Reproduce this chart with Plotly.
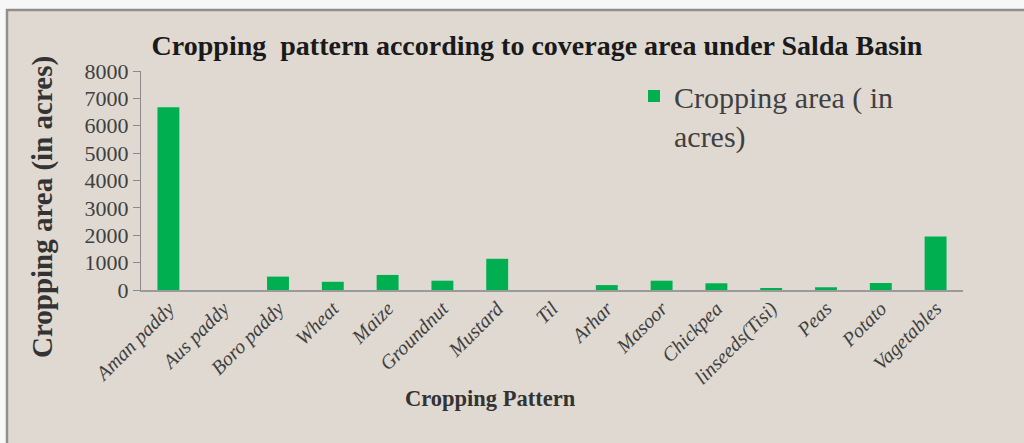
import plotly.graph_objects as go

categories = ["Aman paddy", "Aus paddy", "Boro paddy", "Wheat", "Maize", "Groundnut",
              "Mustard", "Til", "Arhar", "Masoor", "Chickpea", "linseeds(Tisi)",
              "Peas", "Potato", "Vagetables"]
area = [6680, 0, 490, 300, 550, 340, 1140, 0, 180, 340, 245, 60, 100, 255, 1950]
y_ticks = [0, 1000, 2000, 3000, 4000, 5000, 6000, 7000, 8000]

W, H = 1024, 443
L, R, T, B = 141, 963, 71, 290
pw, ph = R - L, B - T

def px(x):
    return (x - L) / pw

def py(y):
    return (B - y) / ph

SERIF = "Liberation Serif, Times New Roman, serif"

fig = go.Figure()
fig.add_trace(go.Bar(
    x=categories, y=area, name="Cropping area ( in<br>acres)",
    marker=dict(color="#00B050", line=dict(width=0)),
))

fig.update_layout(
    width=W, height=H,
    margin=dict(l=L, r=W - R, t=T, b=H - B, pad=0),
    paper_bgcolor="#F7F7F7",
    plot_bgcolor="#E6E2DB",
    bargap=0.6,
    font=dict(family=SERIF, color="#404040"),
    showlegend=True,
    legend=dict(x=px(634), y=py(70), xanchor="left", yanchor="top",
                bgcolor="rgba(0,0,0,0)", valign="top",
                font=dict(family=SERIF, size=30, color="#404040")),
    title=dict(text="<b>Cropping  pattern according to coverage area under Salda Basin</b>",
               x=537 / W, xanchor="center", y=1 - 45 / H, yanchor="middle",
               xref="container", yref="container",
               font=dict(family=SERIF, size=28, color="#1a1a1a")),
    xaxis=dict(showline=True, linecolor="#9a9a9a", linewidth=2, ticks="",
               tickangle=-45, showgrid=False, ticklabelstandoff=-3,
               tickfont=dict(family=SERIF, size=20, style="italic", color="#404040")),
    yaxis=dict(range=[0, 8000], tickvals=y_ticks, showline=True, linecolor="#8a8a8a",
               linewidth=1, ticks="outside", ticklen=7, tickcolor="#8a8a8a",
               showgrid=False, zeroline=False,
               tickfont=dict(family=SERIF, size=22, color="#404040")),
    shapes=[dict(type="rect", xref="paper", yref="paper", layer="below",
                 x0=px(7), x1=px(W + 20), y0=py(H + 20), y1=py(10),
                 fillcolor="#DFD9D1", line=dict(color="#8f8f8f", width=2.5))],
    annotations=[
        dict(text="<b>Cropping area (in acres)</b>", xref="paper", yref="paper",
             x=px(42), y=py(207), textangle=-90, showarrow=False,
             xanchor="center", yanchor="middle",
             font=dict(family=SERIF, size=29, color="#333333")),
        dict(text="<b>Cropping Pattern</b>", xref="paper", yref="paper",
             x=px(490), y=py(398), showarrow=False,
             xanchor="center", yanchor="middle",
             font=dict(family=SERIF, size=22.5, color="#333333")),
    ],
)

fig.write_html("out.html", config={"displayModeBar": False},
               post_script="document.body.style.margin='0';")
